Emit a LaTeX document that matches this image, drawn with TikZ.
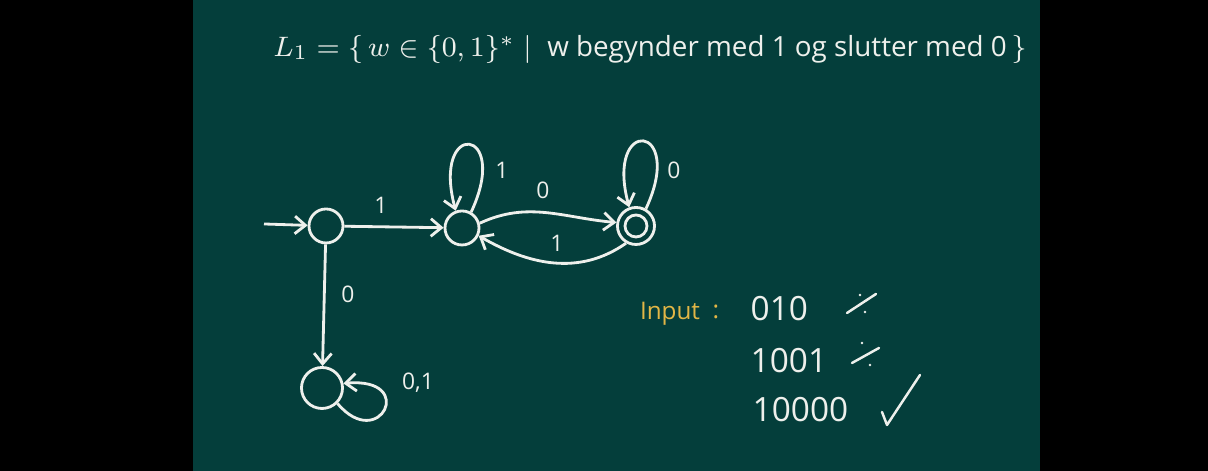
\documentclass[tikz,border=0pt]{standalone}
\usepackage{fontspec}
\setmainfont{Open Sans}
\usetikzlibrary{arrows.meta}
\definecolor{board}{RGB}{4,62,59}
\definecolor{chalk}{RGB}{238,240,236}
\definecolor{chalky}{RGB}{226,182,70}
\begin{document}
\begin{tikzpicture}[x=0.01cm,y=0.01cm,
  state/.style={circle,draw=chalk,line width=0.8pt,minimum size=0.34cm,inner sep=0pt},
  edge/.style={draw=chalk,line width=0.8pt,-{Straight Barb[length=3pt,width=5pt]}},
  lbl/.style={text=chalk,font=\fontsize{6.5}{8}\selectfont,inner sep=0pt},
  inp/.style={text=chalk,font=\fontsize{9.5}{11}\selectfont,inner sep=0pt},
  chalkmark/.style={draw=chalk,line width=0.7pt,line cap=round}]
\useasboundingbox (0,0) rectangle (1208,471);
\fill[black] (0,0) rectangle (1208,471);
\fill[board] (193,0) rectangle (1040,471);
% title
\node[text=chalk,font=\fontsize{7.9}{10}\selectfont,inner sep=0pt] (title) at (650,422)
  {$L_1 = \{\, w \in \{0,1\}^{*} \mid{}$ w begynder med 1 og slutter med 0$\,\}$};
% states
\node[state] (q0) at (326,245) {};
\node[state] (q1) at (462,243) {};
\node[state,minimum size=0.37cm] (q2) at (636,245) {};
\node[circle,draw=chalk,line width=0.8pt,minimum size=0.22cm,inner sep=0pt] (q2in) at (636,245) {};
\node[state,minimum size=0.41cm] (q3) at (322,83) {};
\coordinate (s) at (264,247);
% edges
\draw[edge] (s) -- (q0);
\draw[edge] (q0) -- (q1);
\draw[edge] (q1.15) to[out=25,in=175] (q2.170);
\draw[edge] (q2.240) to[out=215,in=-30] (q1.-25);
\draw[edge] (q1.60) .. controls +(65:95) and +(105:95) .. (q1.110);
\draw[edge] (q2.60) .. controls +(65:95) and +(105:95) .. (q2.110);
\draw[edge] (q0) -- (q3);
\draw[edge] (q3.-45) .. controls +(-50:65) and +(5:75) .. (q3.12);
% labels
\node[lbl] (l01) at (381,266) {1};
\node[lbl] (l11) at (502,301) {1};
\node[lbl] (l12) at (543,281) {0};
\node[lbl] (l21) at (557,228) {1};
\node[lbl] (l22) at (674,301) {0};
\node[lbl] (l03) at (348,177) {0};
\node[lbl] (l33) at (418,88) {0,1};
% inputs
\node[text=chalky,font=\fontsize{6.9}{9}\selectfont,inner sep=0pt] (input) at (670,157) {Input};
\node[text=chalky,font=\fontsize{7}{9}\selectfont,inner sep=0pt] (colon) at (716,159) {:};
\node[inp,anchor=west] (w1) at (750,162) {010};
\node[inp,anchor=west] (w2) at (750,110) {1001};
\node[inp,anchor=west] (w3) at (752,61) {10000};
% marks
\draw[chalkmark] (847,158) -- (876,177);
\fill[chalk] (860,176) circle (1.3);
\fill[chalk] (865,159) circle (1.3);
\draw[chalkmark] (852,108) -- (879,123);
\fill[chalk] (862,128) circle (1.3);
\fill[chalk] (870,106) circle (1.3);
\draw[chalkmark,line join=round] (882,59) -- (887,46) -- (920,96);
\end{tikzpicture}
\end{document}
